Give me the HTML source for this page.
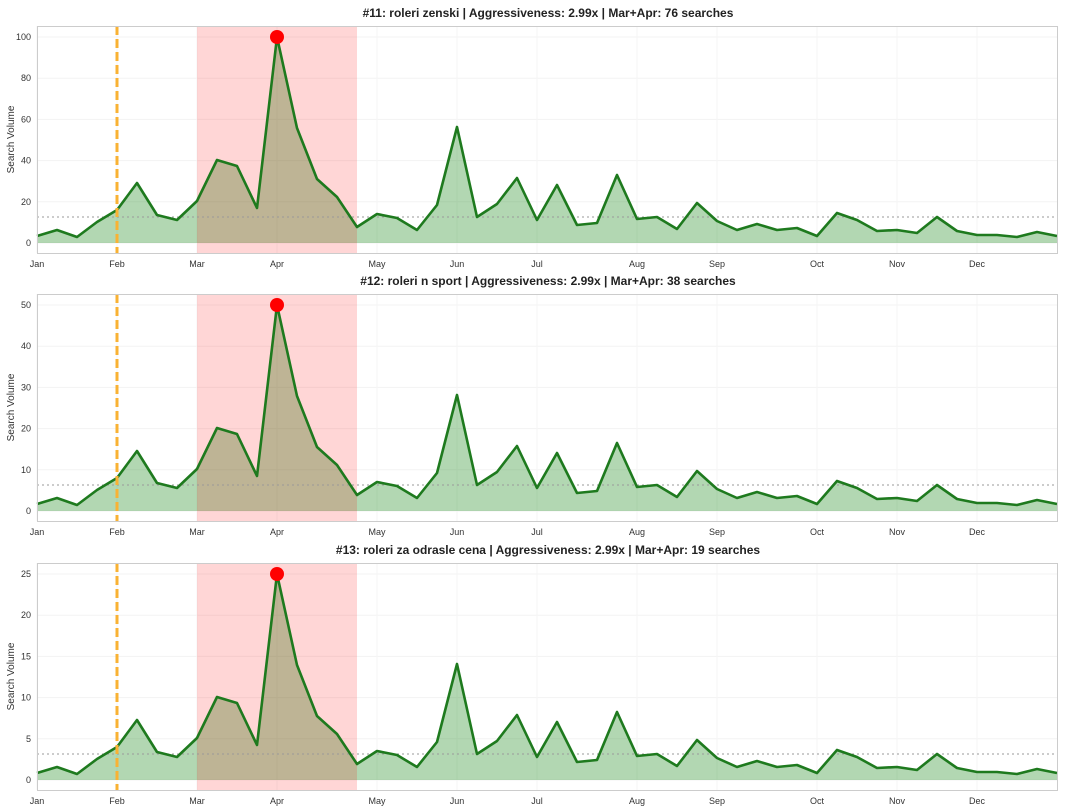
<!DOCTYPE html>
<html><head><meta charset="utf-8"><style>
html,body{margin:0;padding:0;background:#fff;}
svg{display:block;font-family:"Liberation Sans",sans-serif;}
</style></head><body>
<svg id="s" width="1066" height="809" xmlns="http://www.w3.org/2000/svg"></svg>
<script>
const ys=[236,230,237,222,210,183,215,220,201,160,166,208,37,128,179,197,227,214,218,230,205,127,217,204,178,220,185,225,223,175,219,217,229,203,221,230,224,230,228,236,213,220,231,230,233,217,231,235,235,237,232,236];
const panels=[
 {off:0,title:"#11: roleri zenski | Aggressiveness: 2.99x | Mar+Apr: 76 searches",ticks:[0,20,40,60,80,100],max:100},
 {off:268,title:"#12: roleri n sport | Aggressiveness: 2.99x | Mar+Apr: 38 searches",ticks:[0,10,20,30,40,50],max:50},
 {off:537,title:"#13: roleri za odrasle cena | Aggressiveness: 2.99x | Mar+Apr: 19 searches",ticks:[0,5,10,15,20,25],max:25}];
const months=[["Jan",37],["Feb",117],["Mar",197],["Apr",277],["May",377],["Jun",457],["Jul",537],["Aug",637],["Sep",717],["Oct",817],["Nov",897],["Dec",977]];
let h="";
for(const p of panels){
 const o=p.off, top=26+o, bot=253+o, z=243+o, sc=206/p.max;
 h+=`<text x="548" y="${17+o}" text-anchor="middle" font-size="12" font-weight="bold" fill="#222">${p.title}</text>`;
 for(const t of p.ticks){const y=z-t*sc;h+=`<line x1="37" x2="1058" y1="${y}" y2="${y}" stroke="#f3f3f3"/><text x="31" y="${y+3}" text-anchor="end" font-size="9" fill="#333">${t}</text>`;}
 for(const m of months){h+=`<line x1="${m[1]}" x2="${m[1]}" y1="${top}" y2="${bot}" stroke="#f5f5f5"/><text x="${m[1]}" y="${bot+14}" text-anchor="middle" font-size="9" fill="#333">${m[0]}</text>`;}
 h+=`<text transform="translate(14 ${(top+bot)/2}) rotate(-90)" text-anchor="middle" font-size="10" fill="#333">Search Volume</text>`;
 let pts=ys.map((y,i)=>`${37+20*i},${y+o}`).join(" ");
 h+=`<polygon points="37,${z} ${pts} 1057,${z}" fill="rgb(34,139,34)" fill-opacity="0.35"/>`;
 h+=`<rect x="197" y="${top}" width="160" height="${bot-top}" fill="rgb(255,0,0)" fill-opacity="0.16"/>`;
 h+=`<line x1="37" x2="1058" y1="${217+o}" y2="${217+o}" stroke="#999" stroke-width="1" stroke-dasharray="2,3"/>`;
 h+=`<polyline points="${pts}" fill="none" stroke="#1e7a1e" stroke-width="2.6" stroke-linejoin="round"/>`;
 h+=`<line x1="117" x2="117" y1="${top}" y2="${bot}" stroke="#f9b233" stroke-width="3" stroke-dasharray="9,4"/>`;
 h+=`<circle cx="277" cy="${37+o}" r="7" fill="#ff0000"/>`;
 h+=`<rect x="37.5" y="${top+0.5}" width="1020" height="${bot-top}" fill="none" stroke="#ccc"/>`;
}
document.getElementById("s").innerHTML=h;
</script>
</body></html>
